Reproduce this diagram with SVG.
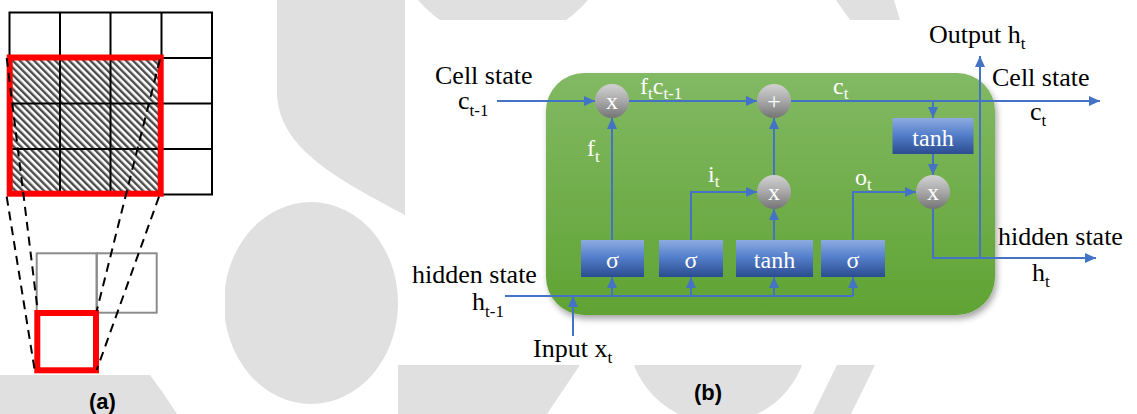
<svg xmlns="http://www.w3.org/2000/svg" width="1137" height="414" viewBox="0 0 1137 414">
  <style>
    .t { font-family: "Liberation Serif", "Times New Roman", serif; font-size: 26px; fill: #000; }
    .w { font-family: "Liberation Serif", "Times New Roman", serif; font-size: 24px; fill: #fff; }
    .c { text-anchor: middle; }
    .sub { font-size: 17px; }
    .lbl { font-family: "Liberation Sans", Arial, sans-serif; font-size: 22px; font-weight: bold; fill: #000; text-anchor: middle; }
    .wire { fill: none; stroke: #4472c4; stroke-width: 2; }
    .arrow { marker-end: url(#arr); }
    .gate { fill: url(#blue); }
    .op { fill: url(#ball); }
    .grid { fill: none; stroke: #000; stroke-width: 2; }
    .dash { fill: none; stroke: #000; stroke-width: 2; stroke-dasharray: 9 6; }
    .wm { fill: #e0e0e0; }
  </style>
  <defs>
    <linearGradient id="green" x1="0" y1="0" x2="0" y2="1">
      <stop offset="0" stop-color="#82b964"/>
      <stop offset="1" stop-color="#60a333"/>
    </linearGradient>
    <linearGradient id="blue" x1="0" y1="0" x2="0" y2="1">
      <stop offset="0" stop-color="#8eabe0"/>
      <stop offset="0.45" stop-color="#5580cc"/>
      <stop offset="1" stop-color="#2b4c90"/>
    </linearGradient>
    <linearGradient id="ball" x1="0" y1="0" x2="0" y2="1">
      <stop offset="0" stop-color="#d2d2d2"/>
      <stop offset="0.5" stop-color="#a8a8a8"/>
      <stop offset="1" stop-color="#747474"/>
    </linearGradient>
    <pattern id="hatch" width="5" height="5" patternUnits="userSpaceOnUse" patternTransform="rotate(-45)">
      <rect width="5" height="5" fill="#fff"/>
      <rect width="2.4" height="5" fill="#4a4a4a"/>
    </pattern>
    <marker id="arr" markerUnits="userSpaceOnUse" markerWidth="11" markerHeight="10" refX="11" refY="5" orient="auto">
      <path d="M0,0 L11,5 L0,10 Z" fill="#4472c4"/>
    </marker>
    <filter id="shadow" x="-5%" y="-5%" width="115%" height="120%">
      <feDropShadow dx="2" dy="4" stdDeviation="3" flood-color="#000" flood-opacity="0.35"/>
    </filter>
  </defs>

  <!-- page background with faint backdrop shapes -->
  <rect width="1137" height="414" fill="#fff"/>
  <g id="backdrop">
    <path class="wm" d="M277,0 L277,95 C280,150 340,180 405,215 L405,0 Z"/>
    <ellipse class="wm" cx="311" cy="303" rx="87" ry="101"/>
    <path class="wm" d="M0,375 L150,375 Q165,395 177,414 L0,414 Z"/>
    <path class="wm" d="M398,365 L580,365 L547,414 L398,414 Z"/>
    <circle class="wm" cx="718" cy="333" r="90"/>
    <path class="wm" d="M837,365 L875,365 L851,414 L813,414 Z"/>
    <circle class="wm" cx="503" cy="-70" r="110"/>
    <path class="wm" d="M836,0 L894,0 L900,20 L850,20 Z"/>
  </g>
  <rect x="0" y="0" width="225" height="375" fill="#fff"/>
  <rect x="405" y="20" width="732" height="345" fill="#fff"/>

  <!-- (a) convolution window -->
  <g id="panel-a">
    <rect x="9.5" y="58" width="152" height="136.5" fill="url(#hatch)"/>
    <g id="input-grid">
      <rect class="grid" x="9.5" y="12.5" width="202.5" height="182"/>
      <path class="grid" d="M60,12.5 V194.5 M110.5,12.5 V194.5 M161.5,12.5 V194.5 M9.5,58 H212 M9.5,103.5 H212 M9.5,149 H212"/>
    </g>
    <rect id="window" x="9.7" y="57.5" width="151" height="136.2" fill="none" stroke="#ff0000" stroke-width="6"/>
    <g id="output-cells">
      <rect x="36.7" y="253.3" width="60" height="59.4" fill="#fff" stroke="#8c8c8c" stroke-width="2"/>
      <rect x="96.7" y="253.3" width="60" height="59.4" fill="none" stroke="#8c8c8c" stroke-width="2"/>
      <rect x="37.3" y="313" width="58.7" height="57.3" fill="#fff" stroke="#ff0000" stroke-width="6"/>
    </g>
    <g id="projection">
      <path class="dash" d="M6.7,196.7 L34.5,369"/>
      <path class="dash" d="M6.7,58 L37.5,309"/>
      <path class="dash" d="M160,59.3 L96.7,311"/>
      <path class="dash" d="M159,196.7 L96.7,370"/>
    </g>
    <text class="lbl" x="102.5" y="408.5">(a)</text>
  </g>

  <!-- (b) LSTM cell -->
  <g id="cell-body">
    <rect x="546" y="73" width="449" height="242" rx="38" fill="url(#green)" filter="url(#shadow)"/>
  </g>

  <g id="connectors">
    <path class="wire arrow" d="M497,101 H595"/>
    <path class="wire arrow" d="M629,101 H757"/>
    <path class="wire arrow" d="M791,101 H1100"/>
    <path class="wire arrow" d="M933,101 V118"/>
    <path class="wire arrow" d="M933,154 V175"/>
    <path class="wire arrow" d="M612,240 V118"/>
    <path class="wire arrow" d="M691,240 V192 H757"/>
    <path class="wire arrow" d="M774,240 V209"/>
    <path class="wire arrow" d="M774,175 V118"/>
    <path class="wire arrow" d="M853,240 V192 H916"/>
    <path class="wire arrow" d="M933,209 V258 H1096"/>
    <path class="wire arrow" d="M980,258 V56"/>
    <path class="wire" d="M505,296 H853"/>
    <path class="wire arrow" d="M612,296 V277"/>
    <path class="wire arrow" d="M691,296 V277"/>
    <path class="wire arrow" d="M774,296 V277"/>
    <path class="wire arrow" d="M853,296 V277"/>
    <path class="wire arrow" d="M573,336 V296"/>
  </g>

  <g id="forget-mul">
    <circle class="op" cx="612" cy="101" r="17"/>
    <text class="w c" x="612" y="109" font-family="Liberation Serif, serif">x</text>
  </g>
  <g id="cell-add">
    <circle class="op" cx="774" cy="101" r="17"/>
    <text class="w c" x="774" y="109" font-family="Liberation Serif, serif">+</text>
  </g>
  <g id="input-mul">
    <circle class="op" cx="774" cy="192" r="17"/>
    <text class="w c" x="774" y="200" font-family="Liberation Serif, serif">x</text>
  </g>
  <g id="output-mul">
    <circle class="op" cx="933" cy="192" r="17"/>
    <text class="w c" x="933" y="200" font-family="Liberation Serif, serif">x</text>
  </g>

  <g id="forget-gate">
    <rect class="gate" x="581" y="240" width="63" height="37"/>
    <text class="w c" x="612.5" y="268">σ</text>
  </g>
  <g id="input-gate">
    <rect class="gate" x="659" y="240" width="64" height="37"/>
    <text class="w c" x="691" y="268">σ</text>
  </g>
  <g id="candidate">
    <rect class="gate" x="736" y="240" width="77" height="37"/>
    <text class="w c" x="774.5" y="268">tanh</text>
  </g>
  <g id="output-gate">
    <rect class="gate" x="821" y="240" width="64" height="37"/>
    <text class="w c" x="853" y="268">σ</text>
  </g>
  <g id="cell-tanh">
    <rect class="gate" x="892.5" y="118" width="81" height="36"/>
    <text class="w c" x="933" y="146">tanh</text>
  </g>

  <g id="labels">
    <text class="w" x="640" y="94">f<tspan class="sub" dy="5">t</tspan><tspan dy="-5">c</tspan><tspan class="sub" dy="5">t-1</tspan></text>
    <text class="w" x="833" y="94">c<tspan class="sub" dy="5">t</tspan></text>
    <text class="w" x="587" y="156">f<tspan class="sub" dy="6">t</tspan></text>
    <text class="w" x="708" y="182">i<tspan class="sub" dy="5">t</tspan></text>
    <text class="w" x="855" y="185">o<tspan class="sub" dy="5">t</tspan></text>

    <text class="t" x="435" y="84">Cell state</text>
    <text class="t" x="458" y="109">c<tspan class="sub" dy="7">t-1</tspan></text>
    <text class="t" x="412" y="283">hidden state</text>
    <text class="t" x="472" y="310">h<tspan class="sub" dy="7">t-1</tspan></text>
    <text class="t" x="533" y="357">Input x<tspan class="sub" dy="6">t</tspan></text>
    <text class="t" x="929" y="43">Output h<tspan class="sub" dy="6">t</tspan></text>
    <text class="t" x="992" y="86">Cell state</text>
    <text class="t" x="1030" y="120">c<tspan class="sub" dy="6">t</tspan></text>
    <text class="t" x="998" y="245">hidden state</text>
    <text class="t" x="1032" y="281">h<tspan class="sub" dy="6">t</tspan></text>
  </g>

  <text class="lbl" x="708" y="399.5">(b)</text>
</svg>
